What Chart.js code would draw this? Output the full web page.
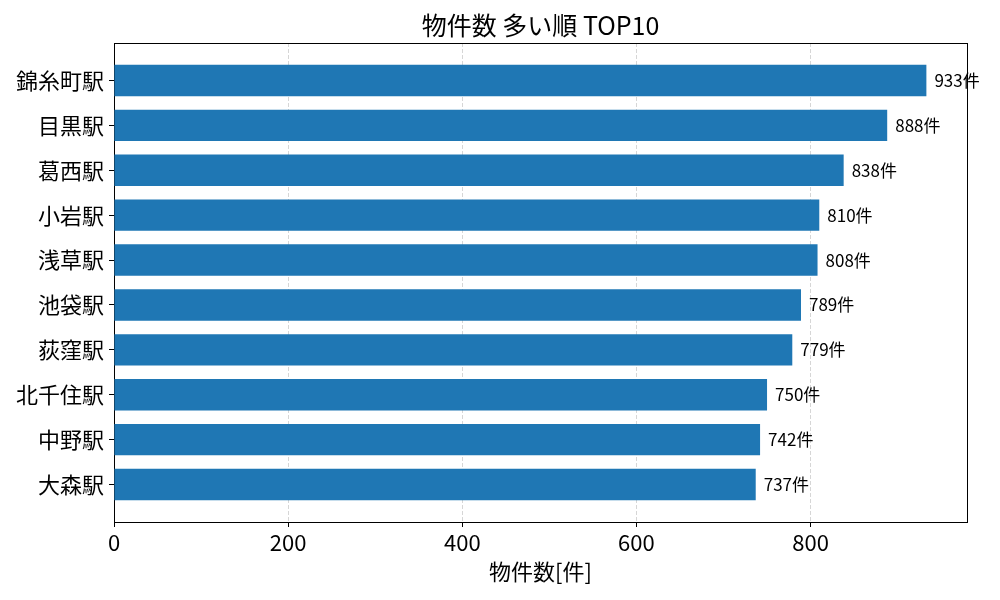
<!DOCTYPE html>
<html>
<head>
<meta charset="utf-8">
<script src="https://cdn.jsdelivr.net/npm/chart.js@4"></script>
<style>
html,body{margin:0;padding:0;background:#fff;}
#wrap{width:1000px;height:600px;position:relative;}
</style>
</head>
<body>
<div id="wrap"><canvas id="c"></canvas></div>
<script>
const stations = ["錦糸町駅","目黒駅","葛西駅","小岩駅","浅草駅","池袋駅","荻窪駅","北千住駅","中野駅","大森駅"];
const counts = [933, 888, 838, 810, 808, 789, 779, 750, 742, 737];
const xTicks = [0, 200, 400, 600, 800];
const unit = "件";
const titleText = "物件数 多い順 TOP10";
const xTitle = "物件数[件]";

const FONT = "'Noto Sans CJK JP', 'Noto Sans', sans-serif";
Chart.defaults.font.family = FONT;
Chart.defaults.color = '#000';

const points = counts.map((v, i) => ({x: v, y: i}));
const xMax = Math.max(...counts) * 1.05;
const n = stations.length;
const yPad = (n - 1 + 0.7) * 0.05 + 0.35;

const valueLabels = {
  id: 'valueLabels',
  afterDatasetsDraw(chart) {
    const ctx = chart.ctx;
    const meta = chart.getDatasetMeta(0);
    ctx.save();
    ctx.font = "17px " + FONT;
    ctx.fillStyle = '#000';
    ctx.textAlign = 'left';
    ctx.textBaseline = 'middle';
    meta.data.forEach((bar, i) => {
      ctx.fillText(counts[i] + unit, bar.x + 8, bar.y);
    });
    ctx.restore();
  }
};
const frame = {
  id: 'frame',
  beforeDatasetsDraw(chart) {
    const a = chart.chartArea, ctx = chart.ctx;
    ctx.save();
    ctx.strokeStyle = '#000';
    ctx.lineWidth = 1;
    ctx.strokeRect(Math.round(a.left) + 0.5, Math.round(a.top) + 0.5, Math.round(a.right - a.left), Math.round(a.bottom - a.top));
    ctx.restore();
  }
};

new Chart(document.getElementById('c'), {
  type: 'bar',
  data: {
    datasets: [{
      data: points,
      backgroundColor: '#1f77b4',
      borderWidth: 0,
      categoryPercentage: 0.7,
      barPercentage: 1.0
    }]
  },
  options: {
    indexAxis: 'y',
    responsive: true,
    maintainAspectRatio: false,
    animation: false,
    layout: {padding: {left: 0, right: 33, top: 0, bottom: 0}},
    plugins: {
      legend: {display: false},
      tooltip: {enabled: false},
      title: {
        display: true,
        fullSize: false,
        text: titleText,
        color: '#000',
        font: {size: 25, weight: 'normal', family: FONT},
        padding: {top: 10, bottom: 3}
      }
    },
    scales: {
      x: {
        type: 'linear',
        position: 'bottom',
        min: 0,
        max: xMax,
        z: 1,
        afterBuildTicks(s) { s.ticks = xTicks.map(v => ({value: v})); },
        afterFit(s) { s.height = 78; },
        grid: {
          display: true,
          color: 'rgba(176,176,176,0.65)',
          lineWidth: 0.8,
          drawOnChartArea: true,
          drawTicks: true,
          tickLength: 5,
          tickColor: '#000',
          tickWidth: 1,
          tickBorderDash: []
        },
        border: {display: true, color: '#000', dash: [4, 2]},
        ticks: {font: {size: 22, family: FONT}, color: '#000', padding: 2, maxRotation: 0},
        title: {display: true, text: xTitle, color: '#000', font: {size: 22, family: FONT}, padding: {top: 0, bottom: 15}}
      },
      y: {
        type: 'linear',
        reverse: true,
        offset: false,
        min: -yPad,
        max: n - 1 + yPad,
        afterBuildTicks(s) { s.ticks = stations.map((_, i) => ({value: i})); },
        afterFit(s) { s.width = 114; },
        grid: {
          display: true,
          offset: false,
          drawOnChartArea: false,
          drawTicks: true,
          tickLength: 5,
          color: '#000',
          tickColor: '#000'
        },
        border: {display: true, color: '#000'},
        ticks: {
          font: {size: 22, family: FONT},
          color: '#000',
          padding: 5,
          callback: (v) => stations[v] !== undefined ? stations[v] : ''
        }
      }
    }
  },
  plugins: [valueLabels, frame]
});
</script>
</body>
</html>
